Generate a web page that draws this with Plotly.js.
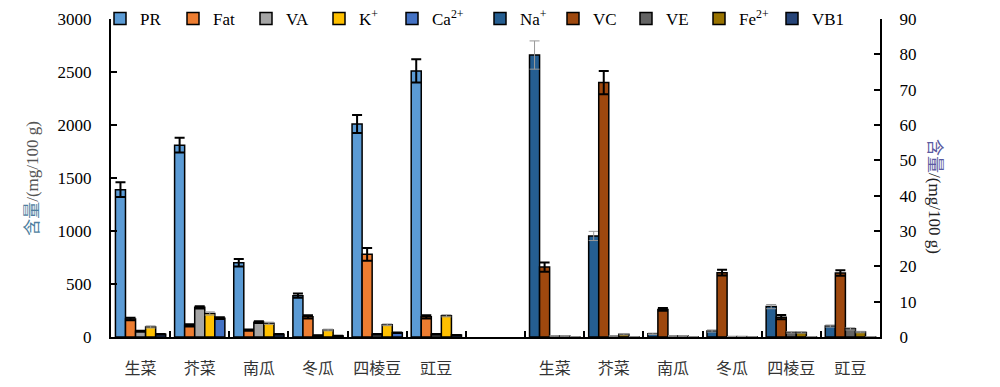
<!DOCTYPE html>
<html>
<head>
<meta charset="utf-8">
<script src="https://cdn.plot.ly/plotly-3.0.1.min.js"></script>
<style>html,body{margin:0;padding:0;background:#fff;}#chart{width:1000px;height:387px;}</style>
</head>
<body>
<div id="chart"></div>
<script>
// ---- data ----
const categories = ['生菜', '芥菜', '南瓜', '冬瓜', '四棱豆', '豇豆'];

// left axis series (mg/100 g), left group
const PR  = [1390, 1810, 700, 390, 2010, 2510];
const PR_err = [70, 70, 35, 20, 85, 110];
const Fat = [170, 110, 65, 190, 780, 190];
const Fat_err = [12, 10, 6, 15, 60, 15];
const VA  = [55, 280, 140, 14, 25, 25];
const VA_err = [5, 10, 8, 2, 3, 3];
const K   = [95, 222, 130, 66, 115, 200];
const K_err = [10, 15, 10, 8, 8, 10];
const Ca  = [25, 178, 25, 10, 40, 18];
const Ca_err = [3, 8, 3, 2, 3, 2];

// right axis series (mg/100 g), right group
const Na  = [79.8, 28.6, 0.9, 1.7, 8.6, 3.1];
const Na_err = [4, 1.3, 0.2, 0.3, 0.6, 0.3];
const VC  = [19.8, 72, 7.8, 18.2, 5.6, 18.1];
const VC_err = [1.3, 3.3, 0.4, 0.8, 0.6, 0.8];
const VE  = [0.3, 0.3, 0.3, 0.1, 1.3, 2.3];
const VE_err = [0.1, 0.1, 0.1, 0.05, 0.2, 0.3];
const Fe  = [0.3, 0.8, 0.3, 0.1, 1.3, 1.4];
const Fe_err = [0.1, 0.2, 0.1, 0.05, 0.2, 0.2];
const VB1 = [0.05, 0.05, 0.05, 0.05, 0.05, 0.05];
const VB1_err = [0, 0, 0, 0, 0, 0];

// ---- build category keys (two groups + empty slot) ----
const leftKeys = categories.slice();
const gapKey = ' ';
const rightKeys = categories.map(c => c + '\u200b');
const allKeys = leftKeys.concat([gapKey], rightKeys);
const nulls7 = new Array(7).fill(null);
const zeros7 = new Array(7).fill(0);

function leftSeries(name, vals, errs, color, errColor, errThick) {
  return {
    type: 'bar', name: name, x: allKeys, y: vals.concat(nulls7),
    yaxis: 'y', xaxis: 'x', legend: 'legend',
    marker: {color: color, line: {color: '#000', width: 1.5}},
    error_y: {type: 'data', array: errs.concat(zeros7), visible: true,
              color: errColor, thickness: errThick, width: 5}
  };
}
function rightSeries(name, vals, errs, color, errColor, errThick) {
  return {
    type: 'bar', name: name, x: allKeys, y: nulls7.concat(vals),
    yaxis: 'y2', xaxis: 'x', legend: 'legend2',
    marker: {color: color, line: {color: '#000', width: 1.5}},
    error_y: {type: 'data', array: zeros7.concat(errs), visible: true,
              color: errColor, thickness: errThick, width: 5}
  };
}

const traces = [
  leftSeries('PR', PR, PR_err, '#5B9BD5', '#000', 2),
  leftSeries('Fat', Fat, Fat_err, '#ED7D31', '#000', 2),
  leftSeries('VA', VA, VA_err, '#A5A5A5', '#000', 2),
  leftSeries('K<sup>+</sup>', K, K_err, '#FFC000', '#999', 1),
  leftSeries('Ca<sup>2+</sup>', Ca, Ca_err, '#4472C4', '#000', 2),
  rightSeries('Na<sup>+</sup>', Na, Na_err, '#255E91', '#999', 1),
  rightSeries('VC', VC, VC_err, '#9E480E', '#000', 2),
  rightSeries('VE', VE, VE_err, '#636363', '#999', 1),
  rightSeries('Fe<sup>2+</sup>', Fe, Fe_err, '#997300', '#999', 1),
  rightSeries('VB1', VB1, VB1_err, '#264478', '#999', 1)
];

const serif = '"Liberation Serif", "Times New Roman", "Noto Sans CJK SC", serif';
const cjk = '"Noto Sans CJK SC", "Liberation Serif", sans-serif';

const legendCommon = {
  orientation: 'h', yref: 'container', y: 0.951, yanchor: 'middle',
  xanchor: 'left', bgcolor: 'rgba(0,0,0,0)',
  font: {family: serif, size: 17, color: '#000'},
  traceorder: 'normal', itemwidth: 30, tracegroupgap: 0,
  entrywidthmode: 'pixels', borderwidth: 0
};

const layout = {
  width: 1000, height: 387,
  margin: {l: 111, r: 120, t: 19, b: 50, pad: 0, autoexpand: false},
  paper_bgcolor: '#fff', plot_bgcolor: '#fff',
  barmode: 'group', bargap: 0.15, bargroupgap: 0,
  showlegend: true,
  legend: Object.assign({}, legendCommon, {xref: 'container', x: 0.100, entrywidth: 28}),
  legend2: Object.assign({}, legendCommon, {xref: 'container', x: 0.480, entrywidth: 28}),
  xaxis: {
    type: 'category', categoryorder: 'array', categoryarray: allKeys,
    range: [-0.5, 12.5],
    showline: true, linecolor: '#000', linewidth: 2,
    ticks: 'inside', tickson: 'boundaries', ticklen: 6, tickwidth: 2, tickcolor: '#000',
    tickfont: {family: cjk, size: 16, color: '#333'},
    ticklabelstandoff: 16,
    showgrid: false, zeroline: false, fixedrange: true
  },
  yaxis: {
    range: [0, 3000], dtick: 500, tick0: 0,
    showline: true, linecolor: '#000', linewidth: 2,
    ticks: 'inside', ticklen: 6, tickwidth: 2, tickcolor: '#000',
    tickfont: {family: serif, size: 17, color: '#000'},
    ticklabelstandoff: 14,
    showgrid: false, zeroline: false
  },
  yaxis2: {
    range: [0, 90], dtick: 10, tick0: 0,
    overlaying: 'y', side: 'right',
    showline: true, linecolor: '#000', linewidth: 2,
    ticks: 'inside', ticklen: 6, tickwidth: 2, tickcolor: '#000',
    tickfont: {family: serif, size: 17, color: '#000'},
    ticklabelstandoff: 14,
    showgrid: false, zeroline: false
  },
  annotations: [
    {
      xref: 'paper', yref: 'paper', x: -0.103, y: 0.5, textangle: -90,
      showarrow: false, xanchor: 'center', yanchor: 'middle',
      text: '<span style="color:#4f7f9f">含量</span>/(mg/100 g)',
      font: {family: serif, size: 17, color: '#555'}
    },
    {
      xref: 'paper', yref: 'paper', x: 1.0715, y: 0.44, textangle: 90,
      showarrow: false, xanchor: 'center', yanchor: 'middle',
      text: '<span style="color:#5a5aa0">含量</span>/(mg/100 g)',
      font: {family: serif, size: 17, color: '#222'}
    }
  ]
};

Plotly.newPlot('chart', traces, layout, {displayModeBar: false, staticPlot: true});
</script>
</body>
</html>
